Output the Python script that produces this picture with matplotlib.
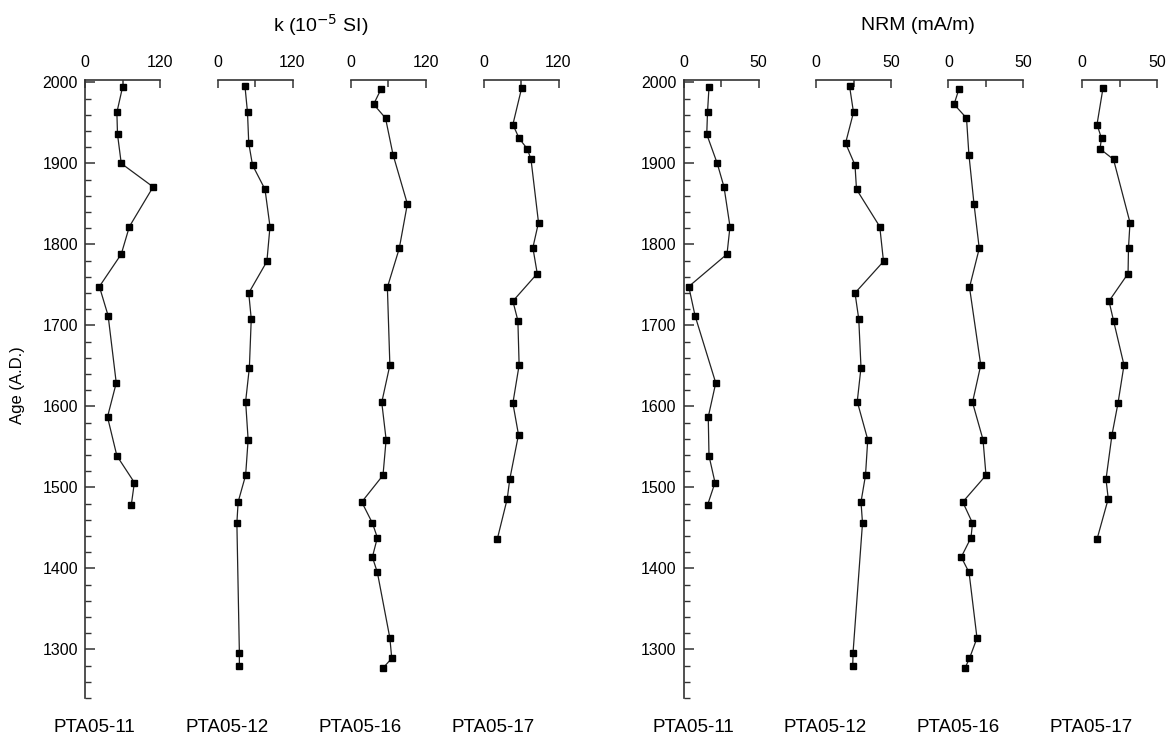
import numpy as np
import matplotlib.pyplot as plt
from matplotlib.ticker import MultipleLocator, FixedLocator

plt.rcParams['font.family'] = ['Liberation Sans', 'DejaVu Sans']

cores = ["PTA05-11", "PTA05-12", "PTA05-16", "PTA05-17"]

# sample ages (A.D.) per core
age_11 = [1994, 1963, 1936, 1900, 1871, 1822, 1788, 1748, 1712, 1629, 1587, 1539, 1506, 1478]
age_12 = [1995, 1963, 1925, 1898, 1868, 1822, 1779, 1740, 1708, 1648, 1606, 1559, 1515, 1482, 1456, 1296, 1280]
age_16 = [1992, 1973, 1956, 1911, 1850, 1795, 1747, 1651, 1605, 1559, 1515, 1482, 1456, 1438, 1414, 1395, 1314, 1289, 1277]
age_17 = [1993, 1948, 1931, 1918, 1905, 1827, 1796, 1764, 1730, 1706, 1651, 1604, 1565, 1510, 1486, 1436]

# magnetic susceptibility k (10^-5 SI)
k_11 = [60, 51, 52, 58, 109, 71, 58, 23, 37, 50, 36, 51, 79, 74]
k_12 = [44, 48, 50, 56, 76, 84, 79, 50, 54, 51, 45, 49, 45, 33, 31, 35, 35]
k_16 = [49, 37, 56, 68, 91, 78, 59, 63, 50, 57, 52, 18, 35, 43, 35, 43, 63, 66, 52]
k_17 = [61, 47, 57, 70, 76, 88, 79, 86, 47, 55, 57, 47, 56, 42, 38, 22]

# NRM (mA/m)
nrm_11 = [17, 16, 15.5, 22.5, 27, 31, 29, 3.5, 7.7, 21.5, 16.5, 17, 21, 16]
nrm_12 = [22.4, 25, 19.7, 26, 27, 42.5, 45, 26, 28.5, 30, 27.5, 34.5, 33, 30, 31, 24.7, 24.5]
nrm_16 = [7, 3.7, 12, 13.6, 17, 20.5, 14, 21.5, 16, 23, 25, 9.5, 16, 15, 8.5, 13.7, 19, 14, 11]
nrm_17 = [14, 10, 13, 12, 21, 32, 31, 30.7, 18, 21, 28, 24, 20, 16, 17.5, 10]

ages = [age_11, age_12, age_16, age_17]
k_vals = [k_11, k_12, k_16, k_17]
nrm_vals = [nrm_11, nrm_12, nrm_16, nrm_17]

W, H = 1171, 740
fig = plt.figure(figsize=(W / 100, H / 100), dpi=100)

top_px, bot_px = 80, 698
left_x = [85, 217.5, 350.5, 483.5]
right_x = [683.5, 816, 948.5, 1082]
pw = 75

spine_col = '#333333'


def make_panel(x0, age, vals, xmax, xmid, first):
    ax = fig.add_axes([x0 / W, 1 - bot_px / H, pw / W, (bot_px - top_px) / H])
    ax.plot(vals, age, color='#222222', lw=0.9, marker='s', ms=4.8,
            mfc='black', mec='black')
    ax.set_xlim(0, xmax)
    ax.set_ylim(1240, 2003)
    for s in ['bottom', 'right']:
        ax.spines[s].set_visible(False)
    ax.spines['top'].set_color(spine_col)
    ax.spines['top'].set_linewidth(1.2)
    ax.xaxis.tick_top()
    ax.set_xticks([0, xmax])
    ax.xaxis.set_minor_locator(FixedLocator([xmid]))
    ax.tick_params(axis='x', which='major', direction='in', length=6, width=1.1,
                   color=spine_col, labelsize=11.5, pad=7)
    ax.tick_params(axis='x', which='minor', direction='in', length=5, width=1.1,
                   color=spine_col)
    if first:
        ax.spines['left'].set_color(spine_col)
        ax.spines['left'].set_linewidth(1.2)
        ax.yaxis.set_major_locator(MultipleLocator(100))
        ax.yaxis.set_minor_locator(MultipleLocator(20))
        ax.set_yticks([1300, 1400, 1500, 1600, 1700, 1800, 1900, 2000])
        ax.tick_params(axis='y', which='major', direction='in', length=7, width=1.1,
                       color=spine_col, labelsize=11.5, pad=5)
        ax.tick_params(axis='y', which='minor', direction='in', length=4, width=1.0,
                       color=spine_col)
    else:
        ax.spines['left'].set_visible(False)
        ax.tick_params(axis='y', which='both', left=False, labelleft=False)
    ax.patch.set_alpha(0)
    return ax


for i in range(4):
    make_panel(left_x[i], ages[i], k_vals[i], 120, 60, i == 0)
    make_panel(right_x[i], ages[i], nrm_vals[i], 50, 25, i == 0)
    fig.text((left_x[i] + pw / 2 - 28) / W, 1 - 727 / H, cores[i],
             ha='center', va='center', fontsize=13.5)
    fig.text((right_x[i] + pw / 2 - 28) / W, 1 - 727 / H, cores[i],
             ha='center', va='center', fontsize=13.5)

fig.text(321 / W, 1 - 25 / H, r'k (10$^{-5}$ SI)', ha='center', va='center',
         fontsize=14)
fig.text(918 / W, 1 - 25 / H, 'NRM (mA/m)', ha='center', va='center',
         fontsize=14)
fig.text(18 / W, 1 - 385 / H, 'Age (A.D.)', ha='center', va='center',
         rotation=90, fontsize=12)

fig.savefig('out.png', dpi=100, facecolor='white')
